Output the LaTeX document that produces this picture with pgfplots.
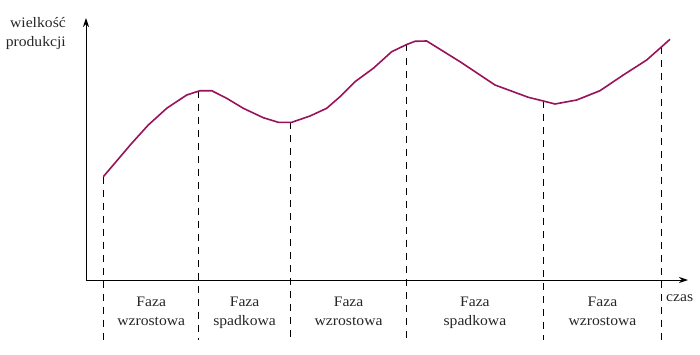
\documentclass[border=0pt]{standalone}
\usepackage{fontspec}
\setmainfont{Liberation Serif}[FakeStretch=1.08]
\usepackage{pgfplots}
\pgfplotsset{compat=1.18}
\usetikzlibrary{arrows.meta}
\definecolor{curve}{RGB}{152,18,92}
\tikzset{lbl/.style={font=\fontsize{14.5}{19}\selectfont, inner sep=0pt, text=black!85}}
\begin{document}
\begin{tikzpicture}
\begin{axis}[
  scale only axis, width=602pt, height=262pt,
  xmin=0, xmax=602, ymin=0, ymax=262,
  axis lines=left, xtick=\empty, ytick=\empty,
  axis line style={line width=0.9pt, -{Stealth[length=9pt,width=6pt]}},
  clip=false,
]
\path (axis cs:-86,-74) rectangle (axis cs:614,280);
% dashed phase boundaries
\addplot[black, line width=0.8pt, dash pattern=on 7pt off 6pt] coordinates {(17.3,103.3) (17.3,-60)};
\addplot[black, line width=0.8pt, dash pattern=on 7pt off 6pt] coordinates {(112.5,189.3) (112.5,-60)};
\addplot[black, line width=0.8pt, dash pattern=on 7pt off 6pt] coordinates {(204.8,157.7) (204.8,-60)};
\addplot[black, line width=0.8pt, dash pattern=on 7pt off 6pt] coordinates {(320.5,235.5) (320.5,-60)};
\addplot[black, line width=0.8pt, dash pattern=on 7pt off 6pt] coordinates {(457.3,179) (457.3,-60)};
\addplot[black, line width=0.8pt, dash pattern=on 7pt off 6pt] coordinates {(575.7,233.3) (575.7,-60)};
% production curve
\addplot[curve, line width=1.6pt, line join=round] coordinates {
(17.3,103.3) (45.7,136.7) (62.3,155) (80.7,171.7) (100.7,185) (114,189.3)
(125.7,189.3) (140.7,181.7) (157.3,171.7) (177.3,162.3) (192.3,157.7) (205.7,157.7)
(224,164) (240.7,171.7) (254,183.3) (269,198.3) (287.3,211.7) (305.7,228.3)
(320.7,235.5) (329,238.7) (340.7,239) (374,218.3) (409,195) (442.3,182.7)
(457.3,179) (469,176) (490.7,180) (514,189.3) (537.3,205) (560.7,220)
(575.7,233.3) (584,240.7)};
% labels
\node[lbl, anchor=base east] at (axis cs:-20,252) {wielkość};
\node[lbl, anchor=base east] at (axis cs:-20,233) {produkcji};
\node[lbl, anchor=base west] at (axis cs:580,-21.5) {czas};
\node[lbl, anchor=base] at (axis cs:65.2,-26) {Faza};
\node[lbl, anchor=base] at (axis cs:65.2,-45.7) {wzrostowa};
\node[lbl, anchor=base] at (axis cs:158.6,-26) {Faza};
\node[lbl, anchor=base] at (axis cs:158.6,-45.7) {spadkowa};
\node[lbl, anchor=base] at (axis cs:262.6,-26) {Faza};
\node[lbl, anchor=base] at (axis cs:262.6,-45.7) {wzrostowa};
\node[lbl, anchor=base] at (axis cs:388.9,-26) {Faza};
\node[lbl, anchor=base] at (axis cs:388.9,-45.7) {spadkowa};
\node[lbl, anchor=base] at (axis cs:516.5,-26) {Faza};
\node[lbl, anchor=base] at (axis cs:516.5,-45.7) {wzrostowa};
\end{axis}
\end{tikzpicture}
\end{document}
